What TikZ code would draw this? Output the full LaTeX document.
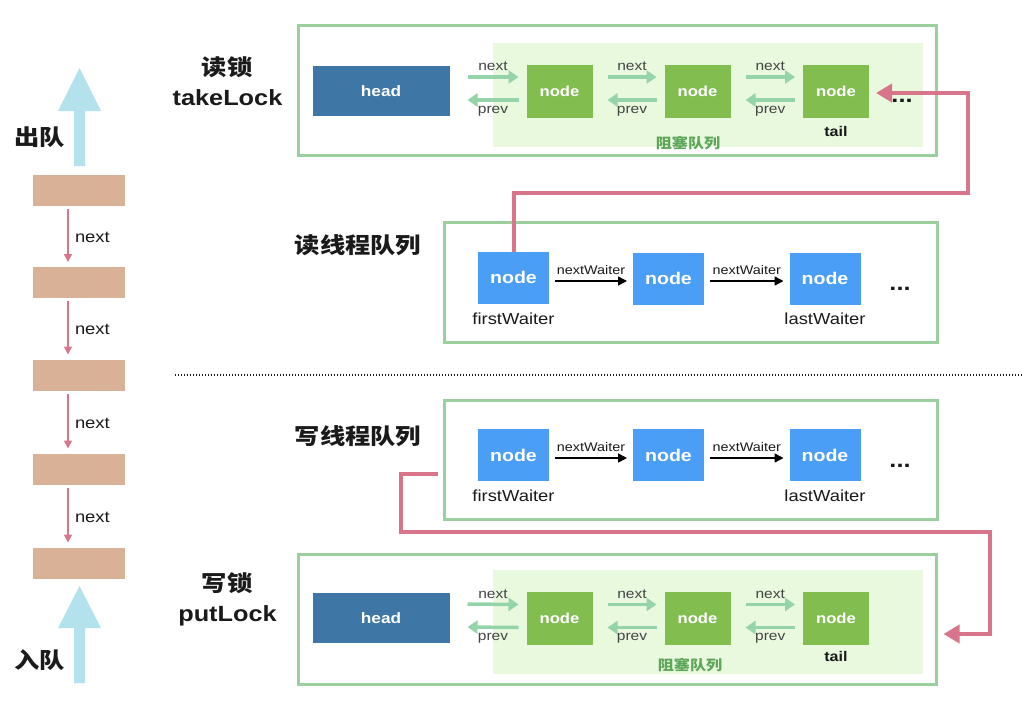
\documentclass[tikz,border=0pt]{standalone}
\usepackage{fontspec}
\setmainfont{Liberation Sans}[FakeStretch=1.15]
\newfontfamily\cjk{Noto Sans CJK SC}[FakeStretch=1.15]
\usetikzlibrary{arrows.meta,calc}
\definecolor{frameC}{HTML}{9CCFA0}
\definecolor{bgC}{HTML}{E8F9DE}
\definecolor{headC}{HTML}{3E76A6}
\definecolor{gnodeC}{HTML}{82BD50}
\definecolor{garrC}{HTML}{95D4A9}
\definecolor{gtextC}{HTML}{5EA65A}
\definecolor{bnodeC}{HTML}{4A9EF5}
\definecolor{pinkC}{HTML}{D8758A}
\definecolor{brownC}{HTML}{D8B196}
\definecolor{lblueC}{HTML}{B4E2EC}
\definecolor{txtC}{HTML}{1A1A1A}
\definecolor{lblC}{HTML}{444444}
\begin{document}
\begin{tikzpicture}[x=1pt,y=-1pt,
  every node/.style={inner sep=0pt,outer sep=0pt},
  frame/.style={draw=frameC,line width=3pt,fill=white},
  bgbox/.style={fill=bgC,minimum width=430pt,minimum height=104pt},
  headbox/.style={fill=headC,text=white,font=\bfseries\fontsize{15}{17}\selectfont,minimum width=137pt,minimum height=50pt},
  gnode/.style={fill=gnodeC,text=white,font=\bfseries\fontsize{14.5}{16}\selectfont,minimum width=66pt,minimum height=53pt},
  bnode/.style={fill=bnodeC,text=white,font=\bfseries\fontsize{17}{19}\selectfont,minimum width=71pt,minimum height=52pt},
  brect/.style={fill=brownC,minimum width=92pt,minimum height=31pt},
  garr/.style={draw=garrC,line width=3.5pt,-{Triangle[length=10pt,width=13pt]}},
  barr/.style={draw=black,line width=1.6pt,-{Triangle[length=9pt,width=9pt]}},
  parr/.style={draw=pinkC,line width=1.6pt,-{Triangle[length=8pt,width=8pt]}},
  pinkline/.style={draw=pinkC,line width=4pt,-{Triangle[length=16pt,width=18pt]}},
  lbl/.style={text=lblC,font=\fontsize{13.5}{15}\selectfont},
  wlbl/.style={text=txtC,font=\fontsize{12.5}{14}\selectfont},
  fwlbl/.style={text=txtC,font=\fontsize{16}{18}\selectfont},
  title/.style={text=txtC,font=\bfseries\fontsize{22}{24}\selectfont},
  ctitle/.style={text=txtC,font=\cjk\bfseries\fontsize{22}{24}\selectfont},
  dots/.style={text=txtC,font=\bfseries\fontsize{22}{24}\selectfont},
  tailt/.style={text=txtC,font=\bfseries\fontsize{14}{16}\selectfont},
  zuse/.style={text=gtextC,font=\cjk\bfseries\fontsize{14}{16}\selectfont},
  leftnext/.style={text=txtC,font=\fontsize{16}{18}\selectfont},
  bigarrow/.style={fill=lblueC}
]
\useasboundingbox[fill=white] (0,0) rectangle (1024,715);

% ---------- left column ----------
\fill[bigarrow] (74,166) -- (74,111) -- (58,111) -- (79.5,68) -- (101,111) -- (85,111) -- (85,166) -- cycle;
\fill[bigarrow] (74,683) -- (74,628) -- (58,628) -- (79.5,586) -- (101,628) -- (85,628) -- (85,683) -- cycle;
\node[ctitle] (chudui) at (40,137) {出队};
\node[ctitle] (rudui) at (40,660) {入队};
\node[brect] (b1) at (79,190.5) {};
\node[brect] (b2) at (79,282.5) {};
\node[brect] (b3) at (79,375) {};
\node[brect] (b4) at (79,469) {};
\node[brect] (b5) at (79,563) {};
\foreach \u/\v in {b1/b2,b2/b3,b3/b4,b4/b5}{
  \draw[parr] ($(\u.south)+(-11,3)$) -- node[midway,anchor=west,xshift=7pt,yshift=-2pt,leftnext]{next} ($(\v.north)+(-11,-5)$);
}

% ---------- read lock ----------
\node[ctitle] (dusuo) at (227,67) {读锁};
\node[title] (takelock) at (227.5,98) {takeLock};
\node[frame,minimum width=638pt,minimum height=130pt] (tframe) at (617.5,90.5) {};
\node[bgbox] (tbg) at (708,95) {};
\node[headbox] (thead) at (381,91) {head};
\node[gnode] (t1) at (559.5,91) {node};
\node[gnode] (t2) at (697.5,91) {node};
\node[gnode] (t3) at (836,91) {node};
\draw[garr] ($(thead.east)+(18,-14)$) -- node[midway,anchor=south,yshift=6pt,lbl]{next} ($(t1.west)+(-8,-14)$);
\draw[garr] ($(t1.west)+(-8,9)$) -- node[midway,anchor=north,yshift=-6pt,lbl]{prev} ($(thead.east)+(18,9)$);
\draw[garr] ($(t1.east)+(15,-14)$) -- node[midway,anchor=south,yshift=6pt,lbl]{next} ($(t2.west)+(-8,-14)$);
\draw[garr] ($(t2.west)+(-8,9)$) -- node[midway,anchor=north,yshift=-6pt,lbl]{prev} ($(t1.east)+(15,9)$);
\draw[garr] ($(t2.east)+(15,-14)$) -- node[midway,anchor=south,yshift=6pt,lbl]{next} ($(t3.west)+(-8,-14)$);
\draw[garr] ($(t3.west)+(-8,9)$) -- node[midway,anchor=north,yshift=-6pt,lbl]{prev} ($(t2.east)+(15,9)$);
\node[tailt,anchor=north] (ttail) at ($(t3.south)+(0,9)$) {tail};
\node[zuse] (tzs) at (688,143) {阻塞队列};

% ---------- read thread queue ----------
\node[ctitle] (duq) at (358,245) {读线程队列};
\node[frame,minimum width=493pt,minimum height=120pt] (rframe) at (690.5,282) {};
\node[bnode] (r1) at (513.5,277.5) {node};
\node[bnode] (r2) at (668.5,278.5) {node};
\node[bnode] (r3) at (825,278.5) {node};
\draw[barr] ($(r1.east)+(6,3.5)$) -- node[midway,anchor=south,yshift=6pt,wlbl]{nextWaiter} ($(r2.west)+(-6,2.5)$);
\draw[barr] ($(r2.east)+(6,2.5)$) -- node[midway,anchor=south,yshift=6pt,wlbl]{nextWaiter} ($(r3.west)+(-6,2.5)$);
\node[fwlbl,anchor=north] (rfirst) at ($(r1.south)+(0,9)$) {firstWaiter};
\node[fwlbl,anchor=north] (rlast) at ($(r3.south)+(0,8)$) {lastWaiter};
\node[dots,anchor=base] (rdots) at (900,290) {...};

% pink connector: first reader -> tail
\coordinate (pa) at (r1.north |- 0,193);
\coordinate (pb) at (968,193);
\coordinate (pc) at (968,93);
\draw[pinkline] (r1.north) -- (pa) -- (pb) -- (pc) -- ($(t3.east)+(7,2)$);
\node[dots,anchor=base] (tdots) at (902,102) {...};

% ---------- separator ----------
\draw[line width=1.4pt,dash pattern=on 1.4pt off 1.6pt,color=txtC] (175,375) -- (1022,375);

% ---------- write thread queue ----------
\node[ctitle] (xieq) at (358,436) {写线程队列};
\node[frame,minimum width=493pt,minimum height=119pt] (wframe) at (690.5,459.5) {};
\node[bnode] (w1) at (513.5,455) {node};
\node[bnode] (w2) at (668.5,455) {node};
\node[bnode] (w3) at (825,455) {node};
\draw[barr] ($(w1.east)+(6,3)$) -- node[midway,anchor=south,yshift=6pt,wlbl]{nextWaiter} ($(w2.west)+(-6,3)$);
\draw[barr] ($(w2.east)+(6,3)$) -- node[midway,anchor=south,yshift=6pt,wlbl]{nextWaiter} ($(w3.west)+(-6,3)$);
\node[fwlbl,anchor=north] (wfirst) at ($(w1.south)+(0,9)$) {firstWaiter};
\node[fwlbl,anchor=north] (wlast) at ($(w3.south)+(0,9)$) {lastWaiter};
\node[dots,anchor=base] (wdots) at (900,467) {...};

% ---------- write lock ----------
\node[ctitle] (xiesuo) at (227,583) {写锁};
\node[title] (putlock) at (227.5,616) {putLock};
\node[frame,minimum width=638pt,minimum height=130pt] (bframe) at (617.5,619) {};
\node[bgbox] (bbg) at (708,621.5) {};
\node[headbox] (bhead) at (381,618) {head};
\node[gnode] (p1) at (559.5,618.5) {node};
\node[gnode] (p2) at (697.5,618.5) {node};
\node[gnode] (p3) at (836,618.5) {node};
\draw[garr] ($(bhead.east)+(18,-14)$) -- node[midway,anchor=south,yshift=6pt,lbl]{next} ($(p1.west)+(-8,-14)$);
\draw[garr] ($(p1.west)+(-8,9)$) -- node[midway,anchor=north,yshift=-6pt,lbl]{prev} ($(bhead.east)+(18,9)$);
\draw[garr] ($(p1.east)+(15,-14)$) -- node[midway,anchor=south,yshift=6pt,lbl]{next} ($(p2.west)+(-8,-14)$);
\draw[garr] ($(p2.west)+(-8,9)$) -- node[midway,anchor=north,yshift=-6pt,lbl]{prev} ($(p1.east)+(15,9)$);
\draw[garr] ($(p2.east)+(15,-14)$) -- node[midway,anchor=south,yshift=6pt,lbl]{next} ($(p3.west)+(-8,-14)$);
\draw[garr] ($(p3.west)+(-8,9)$) -- node[midway,anchor=north,yshift=-6pt,lbl]{prev} ($(p2.east)+(15,9)$);
\node[tailt,anchor=north] (btail) at ($(p3.south)+(0,6)$) {tail};
\node[zuse] (bzs) at (690,665) {阻塞队列};

% pink connector: write queue -> putLock queue
\coordinate (ws) at ($(wframe.west)+(-6,14)$);
\coordinate (qa) at (401,473.5);
\coordinate (qb) at (401,532);
\coordinate (qc) at (990,532);
\coordinate (qd) at (990,634);
\draw[pinkline] (ws) -- (qa) -- (qb) -- (qc) -- (qd) -- ($(bframe.east)+(7,15)$);
\end{tikzpicture}
\end{document}
